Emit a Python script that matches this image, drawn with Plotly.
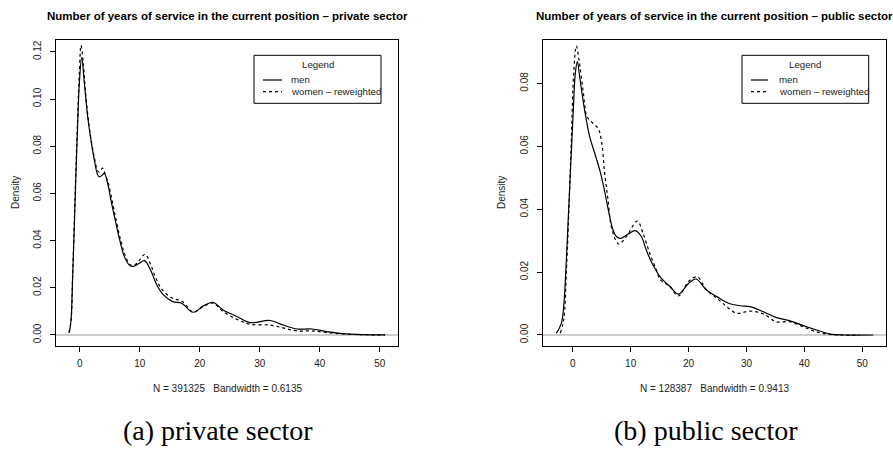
import plotly.graph_objects as go

W, H = 893, 449

# ---- kernel density estimates, years of service in current position ----
# private sector
priv_men_x = [-1.73, -1.45, -1.17, -0.90, -0.62, -0.33, -0.06, 0.33, 0.78, 1.33, 1.88, 2.44,
              3.00, 3.30, 3.70, 4.10, 4.67, 5.20, 5.80, 6.60, 7.40, 8.27, 8.94, 9.94, 10.8,
              11.9, 12.7, 13.8, 15.5, 17.0, 18.9, 20.6, 22.2, 23.9, 26.2, 28.4, 31.7, 33.9,
              36.2, 38.7, 41.2, 44.5, 47.3, 50.9]
priv_men_y = [0.0010, 0.0060, 0.0250, 0.0460, 0.0686, 0.0898, 0.1067, 0.1176, 0.1066, 0.0925,
              0.0826, 0.0741, 0.0678, 0.0670, 0.0676, 0.0685, 0.0642, 0.0572, 0.0501, 0.0410,
              0.0335, 0.0296, 0.0290, 0.0304, 0.0315, 0.0270, 0.0220, 0.0174, 0.0141, 0.0134,
              0.0096, 0.0123, 0.0138, 0.0106, 0.0078, 0.0052, 0.0061, 0.0042, 0.0025, 0.0025,
              0.0014, 0.0004, 0.0001, 0.0000]
priv_wom_x = [-1.80, -1.45, -1.17, -0.90, -0.62, -0.33, -0.06, 0.22, 0.60, 1.00, 1.50, 2.00,
              2.50, 3.00, 3.30, 3.80, 4.20, 4.80, 5.40, 6.00, 6.80, 7.60, 8.40, 9.00, 9.90,
              10.9, 11.8, 12.7, 13.8, 15.5, 17.0, 18.9, 20.6, 22.2, 23.9, 26.2, 28.4, 31.7,
              33.9, 36.2, 38.7, 41.2, 44.5, 47.3, 50.9]
priv_wom_y = [0.0010, 0.0060, 0.0260, 0.0480, 0.0710, 0.0930, 0.1110, 0.1228, 0.1150, 0.1020,
              0.0900, 0.0810, 0.0745, 0.0695, 0.0690, 0.0707, 0.0685, 0.0640, 0.0570, 0.0495,
              0.0405, 0.0335, 0.0298, 0.0293, 0.0315, 0.0342, 0.0300, 0.0240, 0.0190, 0.0155,
              0.0144, 0.0097, 0.0120, 0.0135, 0.0099, 0.0066, 0.0045, 0.0042, 0.0030, 0.0017,
              0.0017, 0.0010, 0.0003, 0.0001, 0.0000]

# public sector
pub_men_x = [-2.83, -1.97, -1.56, -1.21, -0.81, -0.41, 0.05, 0.45, 0.80, 1.20, 1.78, 2.35,
             2.93, 3.80, 4.66, 5.23, 5.81, 6.39, 6.96, 7.54, 8.22, 9.55, 10.8, 11.85, 12.7,
             13.7, 15.1, 16.8, 18.24, 20.0, 21.3, 23.1, 24.9, 26.9, 28.9, 30.6, 32.9, 35.2,
             37.5, 39.8, 42.1, 44.4, 46.7, 51.9]
pub_men_y = [0.0005, 0.0037, 0.0090, 0.0196, 0.0355, 0.0514, 0.0694, 0.0832, 0.0869, 0.0821,
             0.0747, 0.0684, 0.0631, 0.0578, 0.0525, 0.0482, 0.0429, 0.0376, 0.0334, 0.0313,
             0.0307, 0.0321, 0.0332, 0.0313, 0.0270, 0.0228, 0.0185, 0.0154, 0.0130, 0.0164,
             0.0178, 0.0143, 0.0122, 0.0101, 0.0093, 0.0090, 0.0074, 0.0055, 0.0045, 0.0030,
             0.0016, 0.0003, 0.0000, 0.0000]
pub_wom_x = [-2.14, -1.56, -1.10, -0.64, -0.24, 0.17, 0.62, 1.09, 1.78, 2.47, 3.22, 4.37,
             4.94, 5.52, 6.10, 6.67, 7.54, 8.00, 9.26, 11.16, 12.14, 13.3, 14.44, 15.1, 16.8,
             18.24, 20.0, 21.5, 23.1, 24.9, 26.6, 28.3, 30.6, 32.9, 35.2, 37.5, 39.8, 42.1,
             44.4, 46.7, 49.5]
pub_wom_y = [0.0006, 0.0048, 0.0196, 0.0408, 0.0620, 0.0832, 0.0919, 0.0874, 0.0779, 0.0694,
             0.0678, 0.0657, 0.0620, 0.0514, 0.0429, 0.0344, 0.0297, 0.0289, 0.0313, 0.0362,
             0.0323, 0.0260, 0.0207, 0.0177, 0.0154, 0.0124, 0.0170, 0.0185, 0.0143, 0.0117,
             0.0090, 0.0069, 0.0076, 0.0067, 0.0042, 0.0042, 0.0026, 0.0010, 0.0002, 0.0000,
             0.0000]

x_ticks = [0, 10, 20, 30, 40, 50]
priv_y_ticks = [0.00, 0.02, 0.04, 0.06, 0.08, 0.10, 0.12]
pub_y_ticks = [0.00, 0.02, 0.04, 0.06, 0.08]

series_names = ["men", "women \u2013 reweighted"]
titles = ["Number of years of service in the current position \u2013 private sector",
          "Number of years of service in the current position \u2013 public sector"]
sub_labels = ["N = 391325\u00a0\u00a0\u00a0Bandwidth = 0.6135",
              "N = 128387\u00a0\u00a0\u00a0Bandwidth = 0.9413"]
captions = ["(a) private sector", "(b) public sector"]

SANS = "Liberation Sans, Arial, sans-serif"
SERIF = "Liberation Serif, Times New Roman, serif"
TXT = 10


def px(x):
    return x / W


def py(y):
    return 1 - y / H


fig = go.Figure()

line_men = dict(color="black", width=1.2)
line_wom = dict(color="black", width=1.2, dash="3px,3px")

fig.add_trace(go.Scatter(x=priv_men_x, y=priv_men_y, mode="lines", line=line_men,
                         line_shape="spline", xaxis="x", yaxis="y", showlegend=False))
fig.add_trace(go.Scatter(x=priv_wom_x, y=priv_wom_y, mode="lines", line=line_wom,
                         line_shape="spline", xaxis="x", yaxis="y", showlegend=False))
fig.add_trace(go.Scatter(x=pub_men_x, y=pub_men_y, mode="lines", line=line_men,
                         line_shape="spline", xaxis="x2", yaxis="y2", showlegend=False))
fig.add_trace(go.Scatter(x=pub_wom_x, y=pub_wom_y, mode="lines", line=line_wom,
                         line_shape="spline", xaxis="x2", yaxis="y2", showlegend=False))

# plot regions (pixels)
panels = [
    dict(x0=56, x1=398, y0=40.3, y1=346),
    dict(x0=543.3, x1=886, y0=40.3, y1=346),
]

axis_common = dict(showline=True, mirror=True, linecolor="black", linewidth=1,
                   ticks="outside", ticklen=5, tickwidth=1, tickcolor="black",
                   showgrid=False, tickfont=dict(family=SANS, size=TXT, color="#222"))

fig.update_layout(
    width=W, height=H, margin=dict(l=0, r=0, t=0, b=0),
    paper_bgcolor="white", plot_bgcolor="white",
    xaxis=dict(domain=[px(panels[0]["x0"]), px(panels[0]["x1"])], anchor="y",
               range=[-3.95, 53.05], tickvals=x_ticks, zeroline=False,
               ticklabelstandoff=3, **axis_common),
    yaxis=dict(domain=[py(panels[0]["y1"]), py(panels[0]["y0"])], anchor="x",
               range=[-0.0047, 0.1249], tickvals=priv_y_ticks, tickformat=".2f",
               tickangle=-90, zeroline=True, zerolinecolor="#cccccc", zerolinewidth=1.5,
               ticklabelstandoff=5, **axis_common),
    xaxis2=dict(domain=[px(panels[1]["x0"]), px(panels[1]["x1"])], anchor="y2",
                range=[-5.08, 54.1], tickvals=x_ticks, zeroline=False,
                ticklabelstandoff=3, **axis_common),
    yaxis2=dict(domain=[py(panels[1]["y1"]), py(panels[1]["y0"])], anchor="x2",
                range=[-0.0035, 0.0937], tickvals=pub_y_ticks, tickformat=".2f",
                tickangle=-90, zeroline=True, zerolinecolor="#cccccc", zerolinewidth=1.5,
                ticklabelstandoff=5, **axis_common),
)

annotations = []
shapes = []
legend_boxes = [
    dict(x0=254, x1=381, y0=55.3, y1=103.3, kx0=263, kx1=282, tx=289),
    dict(x0=742, x1=868.7, y0=55.3, y1=103.3, kx0=751, kx1=768, tx=777),
]
density_x = [15, 501]

for i, p in enumerate(panels):
    cx = (p["x0"] + p["x1"]) / 2
    # main title
    annotations.append(dict(text="<b>" + titles[i] + "</b>", x=px(cx), y=py(16),
                            xref="paper", yref="paper", showarrow=False,
                            xanchor="center", yanchor="middle",
                            font=dict(family=SANS, size=11.5, color="black")))
    # bandwidth sub-label
    annotations.append(dict(text=sub_labels[i], x=px(cx), y=py(388.7),
                            xref="paper", yref="paper", showarrow=False,
                            xanchor="center", yanchor="middle",
                            font=dict(family=SANS, size=TXT, color="#222")))
    # y-axis title
    annotations.append(dict(text="Density", x=px(density_x[i]), y=py(193),
                            xref="paper", yref="paper", showarrow=False, textangle=-90,
                            xanchor="center", yanchor="middle",
                            font=dict(family=SANS, size=TXT, color="#222")))
    # legend box
    lb = legend_boxes[i]
    shapes.append(dict(type="rect", xref="paper", yref="paper",
                       x0=px(lb["x0"]), x1=px(lb["x1"]), y0=py(lb["y1"]), y1=py(lb["y0"]),
                       line=dict(color="black", width=1), fillcolor="white"))
    annotations.append(dict(text="Legend", x=px((lb["x0"] + lb["x1"]) / 2), y=py(65),
                            xref="paper", yref="paper", showarrow=False,
                            xanchor="center", yanchor="middle",
                            font=dict(family=SANS, size=9.7, color="#222")))
    for j, (yk, dash) in enumerate([(80, "solid"), (91.7, "3px,3px")]):
        shapes.append(dict(type="line", xref="paper", yref="paper",
                           x0=px(lb["kx0"]), x1=px(lb["kx1"]), y0=py(yk), y1=py(yk),
                           line=dict(color="black", width=1.2, dash=dash)))
        annotations.append(dict(text=series_names[j], x=px(lb["tx"]), y=py(yk),
                                xref="paper", yref="paper", showarrow=False,
                                xanchor="left", yanchor="middle",
                                font=dict(family=SANS, size=9.7, color="#222")))

# sub-figure captions
caption_pos = [(218, 430.7), (706, 430.7)]
for i, (cx, cy) in enumerate(caption_pos):
    annotations.append(dict(text=captions[i], x=px(cx), y=py(cy),
                            xref="paper", yref="paper", showarrow=False,
                            xanchor="center", yanchor="middle",
                            font=dict(family=SERIF, size=28, color="black")))

fig.update_layout(annotations=annotations, shapes=shapes)

fig.write_html("out.html")
